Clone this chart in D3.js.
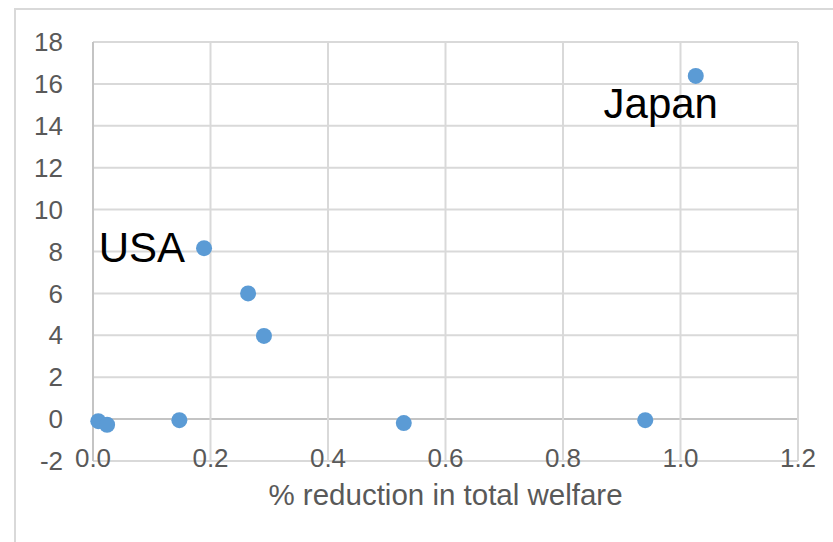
<!DOCTYPE html>
<html>
<head>
<meta charset="utf-8">
<style>
body { margin: 0; background: #fff; }
text { font-family: "Liberation Sans", Arial, sans-serif; }
.tick-label { fill: #595959; font-size: 26px; }
.axis-title { fill: #595959; font-size: 29.5px; }
.point-label { fill: #000; font-size: 42px; }
</style>
</head>
<body>
<script src="https://cdn.jsdelivr.net/npm/d3@7"></script>
<script>

// data
var country = ["", "", "", "USA", "", "", "", "", "Japan"];
var welfare = [0.009, 0.024, 0.147, 0.189, 0.264, 0.291, 0.529, 0.940, 1.026];
var yvalue  = [-0.10, -0.27, -0.05, 8.16, 6.00, 3.97, -0.19, -0.05, 16.38];
var xTicks = [0, 0.2, 0.4, 0.6, 0.8, 1.0, 1.2];
var yTicks = [-2, 0, 2, 4, 6, 8, 10, 12, 14, 16, 18];

var width = 833, height = 542;

var svg = d3.select("body").append("svg")
    .attr("width", width)
    .attr("height", height);

// outer chart frame
svg.append("rect")
    .attr("x", 15).attr("y", 9)
    .attr("width", 840).attr("height", 560)
    .attr("fill", "none")
    .attr("stroke", "#d9d9d9")
    .attr("stroke-width", 2);

var x = d3.scaleLinear().domain([0, 1.2]).range([93, 798]);
var y = d3.scaleLinear().domain([-2, 18]).range([461, 42]);

// gridlines
svg.append("g").selectAll("line.h")
    .data(yTicks)
    .enter().append("line")
    .attr("x1", x(0)).attr("x2", x(1.2))
    .attr("y1", function(d) { return y(d); })
    .attr("y2", function(d) { return y(d); })
    .attr("stroke", function(d) { return d == 0 ? "#c4c4c4" : "#d9d9d9"; })
    .attr("stroke-width", 2);

svg.append("g").selectAll("line.v")
    .data(xTicks)
    .enter().append("line")
    .attr("y1", y(-2)).attr("y2", y(18))
    .attr("x1", function(d) { return x(d); })
    .attr("x2", function(d) { return x(d); })
    .attr("stroke", function(d) { return d == 0 ? "#c4c4c4" : "#d9d9d9"; })
    .attr("stroke-width", 2);

// tick labels
svg.append("g").selectAll("text")
    .data(yTicks)
    .enter().append("text")
    .attr("class", "tick-label")
    .attr("x", 63)
    .attr("y", function(d) { return y(d); })
    .attr("dy", "0.35em")
    .attr("text-anchor", "end")
    .text(function(d) { return d; });

svg.append("g").selectAll("text")
    .data(xTicks)
    .enter().append("text")
    .attr("class", "tick-label")
    .attr("x", function(d) { return x(d); })
    .attr("y", 467)
    .attr("text-anchor", "middle")
    .text(d3.format(".1f"));

svg.append("text")
    .attr("class", "axis-title")
    .attr("x", (x(0) + x(1.2)) / 2)
    .attr("y", 505)
    .attr("text-anchor", "middle")
    .text("% reduction in total welfare");

// points
var pts = welfare.map(function(w, i) {
  return {x: w, y: yvalue[i], name: country[i]};
});

svg.append("g").selectAll("circle")
    .data(pts)
    .enter().append("circle")
    .attr("cx", function(d) { return x(d.x); })
    .attr("cy", function(d) { return y(d.y); })
    .attr("r", 8)
    .attr("fill", "#5b9bd5");

// data labels
svg.append("g").selectAll("text")
    .data(pts.filter(function(d) { return d.name != ""; }))
    .enter().append("text")
    .attr("class", "point-label")
    .attr("x", function(d) { return d.name == "USA" ? x(d.x) - 19 : x(d.x) - 35; })
    .attr("y", function(d) { return d.name == "USA" ? y(d.y) + 14 : y(d.y) + 42; })
    .attr("text-anchor", function(d) { return d.name == "USA" ? "end" : "middle"; })
    .text(function(d) { return d.name; });

</script>
</body>
</html>
